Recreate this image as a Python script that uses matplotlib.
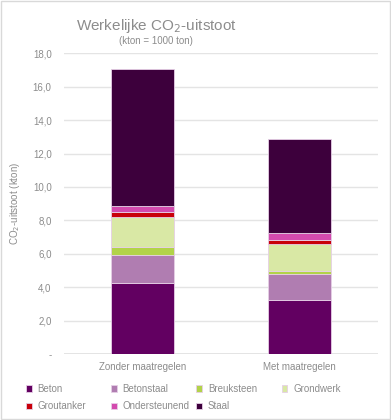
import numpy as np
import matplotlib.pyplot as plt
from matplotlib.patches import Rectangle

"stacked bar chart of actual CO2 emissions"

categories = ["Zonder maatregelen", "Met maatregelen"]
components = ["Beton", "Betonstaal", "Breuksteen", "Grondwerk",
              "Groutanker", "Ondersteunend", "Staal"]
beton = [4.24, 3.22]
betonstaal = [1.70, 1.60]
breuksteen = [0.44, 0.18]
grondwerk = [1.84, 1.60]
groutanker = [0.26, 0.20]
ondersteunend = [0.40, 0.42]
staal = [8.20, 5.68]
yticks = [0, 2, 4, 6, 8, 10, 12, 14, 16, 18]

colors = ["#620061", "#B07DB1", "#B2D349", "#D9E8A5",
          "#C8000A", "#D34AAE", "#3D003C"]

plt.rcParams["font.family"] = ["Liberation Sans", "DejaVu Sans"]
grey = "#8C8C8C"

fig = plt.figure(figsize=(3.91, 4.2), dpi=100)
ax = fig.add_axes([0.164, 0.157, 0.803, 0.716])

series = [beton, betonstaal, breuksteen, grondwerk, groutanker, ondersteunend, staal]
x = np.arange(len(categories))
bottom = np.zeros(len(categories))
handles = []
for name, vals, col in zip(components, series, colors):
    b = ax.bar(x, vals, 0.4, bottom=bottom, color=col, edgecolor="#E6CFE6",
               linewidth=0.6, label=name, zorder=3)
    handles.append(b)
    bottom += np.array(vals)

ax.set_xlim(-0.5, 1.5)
ax.set_ylim(0, 18)
ax.set_yticks(yticks)
ax.set_yticklabels(["-" if v == 0 else f"{v:.1f}".replace(".", ",") for v in yticks])
ax.set_xticks(x)
ax.set_xticklabels(categories)
ax.tick_params(axis="both", length=0, labelsize=7, colors=grey)
ax.tick_params(axis="x", pad=6)
ax.tick_params(axis="y", pad=9)
ax.yaxis.grid(True, color="#E4E4E4", lw=1, zorder=0)
for s in ax.spines.values():
    s.set_visible(False)
ax.axhline(0, color="#E0E0E0", lw=1.2, zorder=2)

ax.set_ylabel("CO$_2$-uitstoot (kton)", fontsize=7, color=grey)
ax.yaxis.set_label_coords(-0.135, 0.5)

fig.text(0.40, 0.938, "Werkelijke CO$_2$-uitstoot", fontsize=11, color=grey,
         ha="center", va="center")
fig.text(0.40, 0.903, "(kton = 1000 ton)", fontsize=7, color=grey,
         ha="center", va="center")

# legend laid out row by row in evenly spaced columns (one small legend per column)
columns = [[0, 4], [1, 5], [2, 6], [3]]
col_x = [0.066, 0.284, 0.502, 0.72]
for idx, cx in zip(columns, col_x):
    leg = fig.legend([handles[i] for i in idx], [components[i] for i in idx],
                     loc="upper left", bbox_to_anchor=(cx, 0.086),
                     frameon=False, fontsize=7, handlelength=0.6, handleheight=0.6,
                     handletextpad=0.6, labelspacing=0.75, borderpad=0,
                     borderaxespad=0)
    for t in leg.get_texts():
        t.set_color(grey)

fig.patches.append(Rectangle((0.002, 0.002), 0.996, 0.996, transform=fig.transFigure,
                             fill=False, edgecolor="#D9D9D9", lw=1))

fig.savefig("out.png", dpi=100)
plt.close(fig)
